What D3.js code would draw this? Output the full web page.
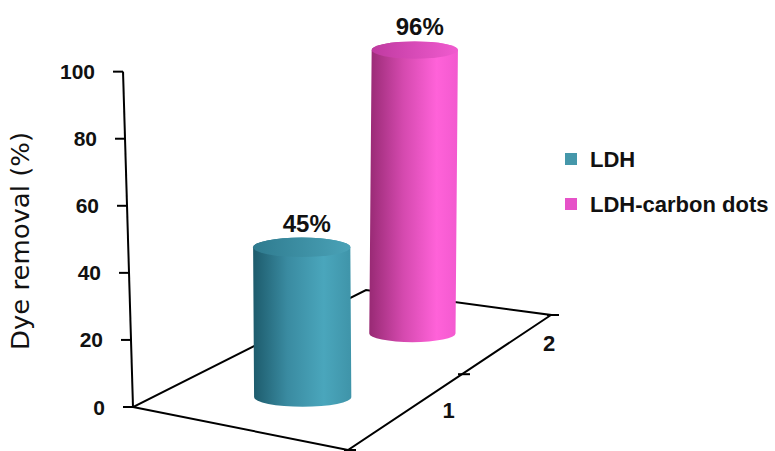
<!DOCTYPE html>
<html>
<head>
<meta charset="utf-8">
<script src="https://cdn.jsdelivr.net/npm/d3@7"></script>
<style>
  body { margin: 0; background: #fff; }
  text { font-family: "Liberation Sans", Arial, sans-serif; fill: #111; }
</style>
</head>
<body>
<script>
var categories = ["1", "2"];
var seriesNames = ["LDH", "LDH-carbon dots"];
var values = [45, 96];
var valueLabels = ["45%", "96%"];
var yTicks = [0, 20, 40, 60, 80, 100];
var colors = ["#4597aa", "#e652c8"];

var width = 775, height = 451;

var svg = d3.select("body").append("svg")
    .attr("width", width)
    .attr("height", height);

// floor quad on screen, corners for (u,v) = (0,0), (1,0), (1,1), (0,1)
// u runs along the categories, v across the floor towards the viewer
var floor = [[133, 407], [366, 290], [551, 315], [348, 450]];
var vanish = [350, 7700];   // verticals converge far below

// square -> quad projective map
var H = (function(q) {
  var x0 = q[0][0], y0 = q[0][1], x1 = q[1][0], y1 = q[1][1],
      x2 = q[2][0], y2 = q[2][1], x3 = q[3][0], y3 = q[3][1];
  var dx1 = x1 - x2, dx2 = x3 - x2, dx3 = x0 - x1 + x2 - x3,
      dy1 = y1 - y2, dy2 = y3 - y2, dy3 = y0 - y1 + y2 - y3;
  var den = dx1 * dy2 - dx2 * dy1;
  var g = (dx3 * dy2 - dx2 * dy3) / den,
      h = (dx1 * dy3 - dx3 * dy1) / den;
  return {
    a: x1 - x0 + g * x1, b: x3 - x0 + h * x3, c: x0,
    d: y1 - y0 + g * y1, e: y3 - y0 + h * y3, f: y0,
    g: g, h: h
  };
})(floor);

var yScale = d3.scaleLinear()
    .domain([0, 100])
    .range([0, 335.5]);

var xScale = d3.scaleBand()
    .domain(categories)
    .range([0, 1]);

function project(u, v, val) {
  var w = H.g * u + H.h * v + 1;
  var x = (H.a * u + H.b * v + H.c) / w,
      y = (H.d * u + H.e * v + H.f) / w;
  var len = yScale(val || 0) / w;
  var dx = x - vanish[0], dy = y - vanish[1], n = Math.hypot(dx, dy);
  return { x: x + dx / n * len, y: y + dy / n * len, w: w };
}

// gradients for the cylinders
var defs = svg.append("defs");
var sideStops = [
  [["0%", "#1d5b6c"], ["35%", "#3a8ba1"], ["72%", "#4aa6bc"], ["100%", "#3f94a9"]],
  [["0%", "#982a74"], ["38%", "#d449ae"], ["76%", "#ff62d9"], ["100%", "#f259cf"]]
];
var topStops = [
  [["0%", "#2f7b8f"], ["100%", "#4aa2b7"]],
  [["0%", "#bf3aa0"], ["100%", "#f05bcf"]]
];
sideStops.forEach(function(stops, i) {
  defs.append("linearGradient").attr("id", "side" + i)
    .selectAll("stop").data(stops).enter().append("stop")
    .attr("offset", function(d) { return d[0]; })
    .attr("stop-color", function(d) { return d[1]; });
});
topStops.forEach(function(stops, i) {
  defs.append("linearGradient").attr("id", "top" + i)
    .selectAll("stop").data(stops).enter().append("stop")
    .attr("offset", function(d) { return d[0]; })
    .attr("stop-color", function(d) { return d[1]; });
});

// floor outline
var corners = [[0, 0], [0, 1], [1, 1], [1, 0]].map(function(c) {
  var p = project(c[0], c[1], 0);
  return [p.x, p.y];
});
svg.append("path")
    .attr("d", "M" + corners.join("L") + "Z")
    .attr("fill", "none")
    .attr("stroke", "#000")
    .attr("stroke-width", 2);

// value axis
var axisBase = project(0, 0, 0), axisTop = project(0, 0, 100);
svg.append("line")
    .attr("x1", axisBase.x).attr("y1", axisBase.y)
    .attr("x2", axisTop.x).attr("y2", axisTop.y)
    .attr("stroke", "#000").attr("stroke-width", 2);

var yTick = svg.append("g").selectAll("g")
    .data(yTicks).enter().append("g")
    .attr("transform", function(d) {
      var p = project(0, 0, d);
      return "translate(" + p.x + "," + p.y + ")";
    });
yTick.append("line")
    .attr("x1", -10).attr("x2", 0)
    .attr("stroke", "#000").attr("stroke-width", 2);
yTick.append("text")
    .attr("x", -28).attr("dy", "0.36em")
    .attr("text-anchor", "end")
    .style("font-size", "21px").style("font-weight", "bold")
    .text(function(d) { return d; });

svg.append("text")
    .attr("transform", "translate(29,241) rotate(-90)")
    .attr("text-anchor", "middle")
    .attr("textLength", 218)
    .attr("lengthAdjust", "spacingAndGlyphs")
    .style("font-family", "'DejaVu Sans', sans-serif")
    .style("font-size", "24px")
    .text("Dye removal (%)");

// category axis along the front-right edge
var catTicks = [0].concat(categories.map(function(c) { return xScale(c) + xScale.bandwidth(); }));
svg.append("g").selectAll("line")
    .data(catTicks).enter().append("line")
    .each(function(d) {
      var p = project(d, 1, 0);
      d3.select(this)
        .attr("x1", p.x - 4).attr("x2", p.x + 8)
        .attr("y1", p.y).attr("y2", p.y);
    })
    .attr("stroke", "#000").attr("stroke-width", 2);

svg.append("g").selectAll("text")
    .data(categories).enter().append("text")
    .each(function(d) {
      var p = project(xScale(d) + xScale.bandwidth() / 2, 1, 0);
      d3.select(this).attr("x", p.x + 40).attr("y", p.y + 8);
    })
    .attr("text-anchor", "middle")
    .style("font-size", "22px").style("font-weight", "bold")
    .text(function(d) { return d; });

// cylinders, back one first; they stand a little in front of the middle of the floor
var R = 49, flat = 0.2, barU = -0.035, barV = 0.55;
var bars = categories.map(function(c, i) {
  var u = xScale(c) + xScale.bandwidth() / 2 + barU;
  var b = project(u, barV, 0), t = project(u, barV, values[i]);
  var rx = R / b.w;
  return { i: i, b: b, t: t, rx: rx, ry: rx * flat };
}).sort(function(a, b) { return b.b.w - a.b.w; });

var cyl = svg.append("g").selectAll("g")
    .data(bars).enter().append("g");

cyl.append("path")
    .attr("d", function(d) {
      return "M" + (d.b.x - d.rx) + "," + d.b.y +
        "A" + d.rx + "," + d.ry + " 0 0 0 " + (d.b.x + d.rx) + "," + d.b.y +
        "L" + (d.t.x + d.rx) + "," + d.t.y +
        "A" + d.rx + "," + d.ry + " 0 0 0 " + (d.t.x - d.rx) + "," + d.t.y + "Z";
    })
    .attr("fill", function(d) { return "url(#side" + d.i + ")"; });

cyl.append("ellipse")
    .attr("cx", function(d) { return d.t.x; })
    .attr("cy", function(d) { return d.t.y; })
    .attr("rx", function(d) { return d.rx; })
    .attr("ry", function(d) { return d.ry; })
    .attr("fill", function(d) { return "url(#top" + d.i + ")"; });

cyl.append("text")
    .attr("x", function(d) { return d.t.x + 5; })
    .attr("y", function(d) { return d.t.y - d.ry - 6; })
    .attr("text-anchor", "middle")
    .style("font-size", "24px").style("font-weight", "bold")
    .text(function(d) { return valueLabels[d.i]; });

// legend
var legend = svg.append("g").selectAll("g")
    .data(seriesNames).enter().append("g")
    .attr("transform", function(d, i) { return "translate(565," + (153 + i * 45) + ")"; });
legend.append("rect")
    .attr("width", 12).attr("height", 12)
    .attr("fill", function(d, i) { return colors[i]; });
legend.append("text")
    .attr("x", 25).attr("y", 14)
    .style("font-size", "22px").style("font-weight", "bold")
    .text(function(d) { return d; });
</script>
</body>
</html>
